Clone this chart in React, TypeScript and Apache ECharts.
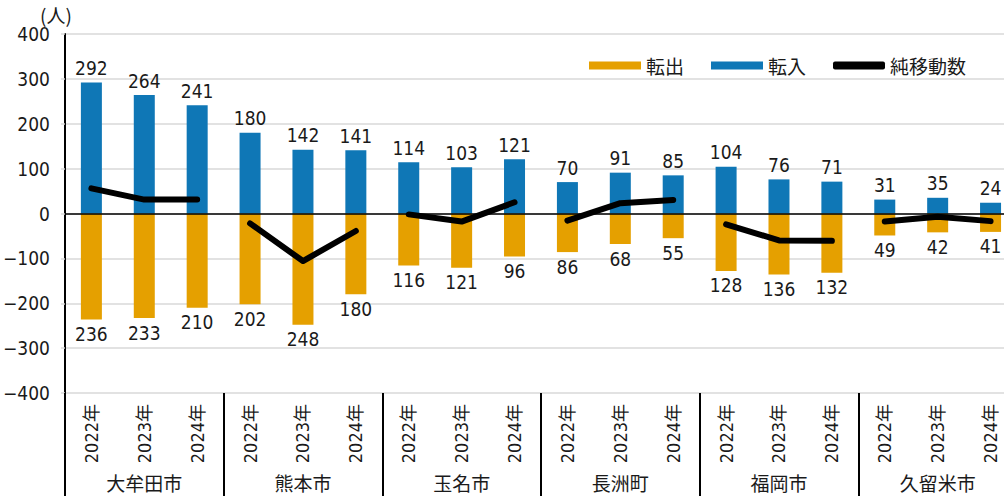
import React, { useEffect, useRef } from "react";
import * as echarts from "echarts";

const groups = ["大牟田市", "熊本市", "玉名市", "長洲町", "福岡市", "久留米市"];
const years = ["2022年", "2023年", "2024年"];
const inflow = [292, 264, 241, 180, 142, 141, 114, 103, 121, 70, 91, 85, 104, 76, 71, 31, 35, 24];
const outflow = [236, 233, 210, 202, 248, 180, 116, 121, 96, 86, 68, 55, 128, 136, 132, 49, 42, 41];
const net = [56, 31, 31, -22, -106, -39, -2, -18, 25, -16, 23, 30, -24, -60, -61, -18, -7, -17];
const yTicks = { min: -400, max: 400, interval: 100 };

const FONT = "'Liberation Sans Narrow', 'DejaVu Sans Condensed', 'Noto Sans CJK JP', sans-serif";
const CJK = "'Noto Sans CJK JP', sans-serif";
const ORANGE = "#E5A000";
const BLUE = "#0F77B6";
const TEXT = "#1a1a1a";

export default function App() {
  const ref = useRef<HTMLDivElement>(null);
  useEffect(() => {
    if (!ref.current) return;
    const chart = echarts.init(ref.current, undefined, { renderer: "svg" });
    const cats: string[] = [];
    groups.forEach((g) => years.forEach((y) => cats.push(g + "|" + y)));

    const lineSeries = groups.map((g, gi) => ({
      name: "純移動数",
      type: "line",
      xAxisIndex: 0,
      data: net.map((v, i) => (Math.floor(i / 3) === gi ? v : "-")),
      showSymbol: false,
      symbol: "none",
      connectNulls: false,
      lineStyle: { color: "#000", width: 6, cap: "round", join: "round" },
      itemStyle: { color: "#000" },
      z: 5,
    }));

    chart.setOption({
      animation: false,
      textStyle: { fontFamily: FONT },
      grid: { left: 61, right: 3, top: 34, bottom: 103 },
      legend: {
        left: 584,
        top: 51,
        itemWidth: 52,
        itemHeight: 8,
        itemGap: 27,
        textStyle: { fontSize: 19, color: TEXT, fontFamily: CJK },
        data: [
          { name: "転出", icon: "rect" },
          { name: "転入", icon: "rect" },
          { name: "純移動数", icon: "roundRect" },
        ],
      },
      graphic: [
        {
          type: "text",
          left: 40,
          top: 5,
          style: { text: "(人)", fontSize: 19, fill: TEXT, fontFamily: CJK },
        },
      ],
      xAxis: [
        {
          type: "category",
          data: cats,
          position: "bottom",
          axisLine: { show: false },
          axisTick: { show: false },
          axisLabel: {
            rotate: 90,
            margin: 11,
            fontSize: 18,
            color: TEXT,
            interval: 0,
            formatter: (v: string) => v.split("|")[1],
          },
        },
        {
          type: "category",
          data: groups,
          position: "bottom",
          axisLine: { show: false },
          axisTick: { show: true, length: 110, lineStyle: { color: "#000", width: 2 } },
          axisLabel: { margin: 80, fontSize: 19, color: TEXT, fontFamily: CJK, interval: 0 },
        },
      ],
      yAxis: {
        type: "value",
        min: yTicks.min,
        max: yTicks.max,
        interval: yTicks.interval,
        axisLine: { show: true, lineStyle: { color: "#000", width: 2 } },
        axisTick: { show: true, length: 4, lineStyle: { color: "#d9d9d9", width: 1.5 } },
        axisLabel: {
          margin: 15,
          fontSize: 19,
          color: TEXT,
          formatter: (v: number) => (v < 0 ? "\u2212" + Math.abs(v) : String(v)),
        },
        splitLine: { show: true, lineStyle: { color: "#d9d9d9", width: 1.5 } },
      },
      series: [
        {
          name: "転出",
          type: "bar",
          data: outflow.map((v) => -v),
          barWidth: 21,
          barGap: "-100%",
          itemStyle: { color: ORANGE },
          label: {
            show: true,
            position: "bottom",
            distance: 5,
            fontSize: 19,
            color: TEXT,
            formatter: (p: any) => String(Math.abs(p.value)),
          },
          markLine: {
            silent: true,
            symbol: "none",
            label: { show: false },
            lineStyle: { color: "#000", width: 1.5, type: "solid" },
            data: [{ yAxis: 0 }],
            z: 4,
          },
        },
        {
          name: "転入",
          type: "bar",
          data: inflow,
          barWidth: 21,
          barGap: "-100%",
          itemStyle: { color: BLUE },
          label: { show: true, position: "top", distance: 5, fontSize: 19, color: TEXT },
        },
        ...lineSeries,
      ],
    });
    return () => chart.dispose();
  }, []);

  return (
    <div style={{ position: "absolute", left: 0, top: 0, width: 1004, height: 496, overflow: "hidden", background: "#fff" }}>
      <div ref={ref} style={{ width: 1020, height: 496 }} />
    </div>
  );
}
